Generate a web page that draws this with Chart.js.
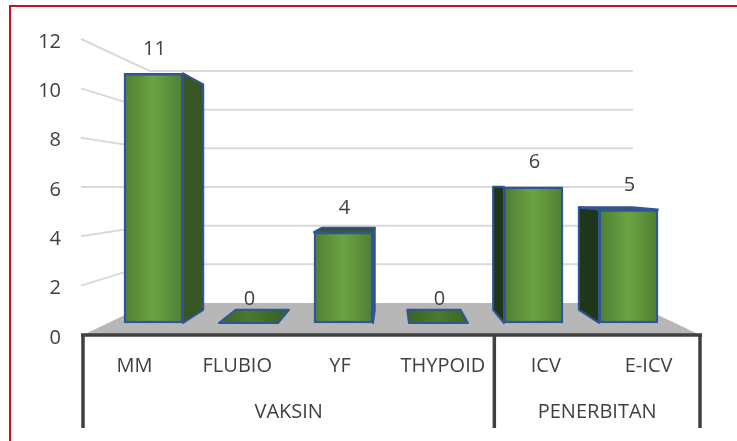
<!DOCTYPE html>
<html>
<head>
<meta charset="utf-8">
<script src="https://cdn.jsdelivr.net/npm/chart.js@4"></script>
<style>
  html, body { margin: 0; padding: 0; background: #fff; overflow: hidden; }
  #frame { position: absolute; left: 9px; top: 5px; right: 0; bottom: 0;
           border-left: 2px solid #c9101c; border-top: 2px solid #c9101c; }
  #wrap { position: absolute; left: 0; top: 0; width: 737px; height: 441px; }
</style>
</head>
<body>
<div id="frame"></div>
<div id="wrap"><canvas id="chart" width="737" height="441"></canvas></div>
<script>
// Vaccine counts, fake-3D column chart (Excel style)
const categories = ['MM', 'FLUBIO', 'YF', 'THYPOID', 'ICV', 'E-ICV'];
const counts = [11, 0, 4, 0, 6, 5];
const groupLabels = ['VAKSIN', 'PENERBITAN'];
const groupSpans = [4, 2];

const TEXT = '#404040';
const FONT = { family: '"Open Sans"', size: 20 };

// --- perspective: everything shrinks toward one point behind the chart ---
const BAR_DEPTH = 0.097;    // front of a bar -> back of a bar
const FLOOR_DEPTH = 0.217;  // axis plane -> back wall

function vanish(chart) {
  const a = chart.chartArea;
  return { x: (a.left + a.right) / 2, y: chart.scales.y.getPixelForValue(6) };
}

function toward(p, vp, k) {
  return { x: p.x + (vp.x - p.x) * k, y: p.y + (vp.y - p.y) * k };
}

function poly(ctx, pts, fill, stroke) {
  ctx.beginPath();
  pts.forEach((p, i) => (i ? ctx.lineTo(p.x, p.y) : ctx.moveTo(p.x, p.y)));
  ctx.closePath();
  if (fill) { ctx.fillStyle = fill; ctx.fill(); }
  if (stroke) { ctx.strokeStyle = stroke; ctx.lineWidth = 2; ctx.lineJoin = 'round'; ctx.stroke(); }
}

function barGradient(ctx, x0, x1, edge, mid) {
  const g = ctx.createLinearGradient(x0, 0, x1, 0);
  g.addColorStop(0, edge);
  g.addColorStop(0.5, mid);
  g.addColorStop(1, edge);
  return g;
}

const threeD = {
  id: 'threeD',
  beforeDatasetsDraw(chart) {
    const ctx = chart.ctx;
    const a = chart.chartArea;
    const vp = vanish(chart);
    const yScale = chart.scales.y;
    const base = yScale.getPixelForValue(0);

    ctx.save();
    // floor
    const bl = toward({ x: a.left, y: base }, vp, FLOOR_DEPTH);
    const br = toward({ x: a.right, y: base }, vp, FLOOR_DEPTH);
    poly(ctx, [{ x: a.left, y: base }, bl, br, { x: a.right, y: base }], '#b7b7b7');

    // gridlines run along the left wall, then across the back wall
    ctx.strokeStyle = '#d9d9d9';
    ctx.lineWidth = 2;
    yScale.ticks.forEach((t) => {
      if (t.value === 0) return;
      const p = { x: a.left - 2, y: yScale.getPixelForValue(t.value) };
      const q = toward({ x: a.left, y: p.y }, vp, FLOOR_DEPTH);
      ctx.beginPath();
      ctx.moveTo(p.x, p.y);
      ctx.lineTo(q.x, q.y);
      ctx.lineTo(br.x, q.y);
      ctx.stroke();
    });

    // side and top faces behind each column
    chart.getDatasetMeta(0).data.forEach((bar) => {
      const left = bar.x - bar.width / 2;
      const right = bar.x + bar.width / 2;
      const tl = { x: left, y: bar.y }, tr = { x: right, y: bar.y };
      const fl = { x: left, y: bar.base }, fr = { x: right, y: bar.base };
      const back = (p) => toward(p, vp, BAR_DEPTH);
      const blue = '#2f5597';

      if (bar.y === bar.base) {
        // value 0: only a flat plate on the floor
        poly(ctx, [fl, back(fl), back(fr), fr],
          barGradient(ctx, left, right, '#3c6425', '#4a7a2e'), blue);
        return;
      }
      if (right < vp.x) {
        poly(ctx, [tr, back(tr), back(fr), fr], '#375623', blue);
      }
      if (left > vp.x) {
        poly(ctx, [tl, back(tl), back(fl), fl], '#20361a', blue);
      }
      if (bar.y > vp.y) {
        poly(ctx, [tl, back(tl), back(tr), tr], '#375623', blue);
      }
    });
    ctx.restore();
  },
  afterDatasetsDraw(chart) {
    const ctx = chart.ctx;
    const a = chart.chartArea;
    const bottom = chart.height - 13;
    const slot = (a.right - a.left) / categories.length;

    ctx.save();
    // axis rules: one across, one at each group boundary
    ctx.strokeStyle = '#404040';
    ctx.lineWidth = 3.5;
    ctx.lineCap = 'butt';
    ctx.beginPath();
    ctx.moveTo(a.left - 2, a.bottom);
    ctx.lineTo(a.right + 2, a.bottom);
    let start = a.left;
    ctx.moveTo(start, a.bottom);
    ctx.lineTo(start, bottom);
    groupSpans.forEach((n) => {
      start += n * slot;
      ctx.moveTo(start, a.bottom);
      ctx.lineTo(start, bottom);
    });
    ctx.stroke();

    ctx.fillStyle = TEXT;
    ctx.font = FONT.size + 'px ' + FONT.family;
    ctx.textAlign = 'center';
    ctx.textBaseline = 'middle';

    // group names under the category labels
    start = a.left;
    groupLabels.forEach((name, i) => {
      const w = groupSpans[i] * slot;
      ctx.fillText(name, start + w / 2, 412);
      start += w;
    });

    // value labels above each column
    chart.getDatasetMeta(0).data.forEach((bar, i) => {
      ctx.fillText(String(counts[i]), bar.x + 1, bar.y - 24);
    });
    ctx.restore();
  }
};

new Chart(document.getElementById('chart'), {
  type: 'bar',
  data: {
    datasets: [{
      data: counts.map((v, i) => ({ x: i, y: v })),
      xAxisID: 'xFront',
      yAxisID: 'yFront',
      barThickness: 59,
      borderWidth: 2.5,
      borderColor: '#2f5597',
      borderSkipped: false,
      backgroundColor(c) {
        const s = c.chart.scales.xFront;
        if (!s || !c.chart.chartArea || c.dataIndex === undefined) return '#5b9138';
        const mid = s.getPixelForValue(c.dataIndex);
        return barGradient(c.chart.ctx, mid - 29, mid + 29, '#507f32', '#6aa343');
      }
    }]
  },
  plugins: [threeD],
  options: {
    responsive: false,
    animation: false,
    layout: { padding: { left: 0, right: 37, top: 39, bottom: 0 } },
    plugins: { legend: { display: false }, title: { display: false }, tooltip: { enabled: false } },
    scales: {
      // visible axes, sitting on the front edge of the floor
      x: {
        type: 'category',
        labels: categories,
        offset: true,
        grid: { display: false, drawTicks: false },
        border: { display: false },
        ticks: { color: TEXT, font: FONT, maxRotation: 0, autoSkip: false, padding: 19 },
        afterFit(s) { s.height = 106; }
      },
      y: {
        min: 0,
        max: 12,
        grid: { display: false, drawTicks: false },
        border: { display: false },
        ticks: { color: TEXT, font: FONT, stepSize: 2, padding: 22, labelOffset: 3 },
        afterFit(s) { s.width = 83; }
      },
      // hidden scales for the plane the columns stand on, set back from the axes
      xFront: { type: 'linear', display: false, offset: false, grid: { offset: false }, min: -0.742, max: 5.753 },
      yFront: { type: 'linear', display: false, min: -0.529, max: 12.511 }
    }
  }
});
</script>
</body>
</html>
